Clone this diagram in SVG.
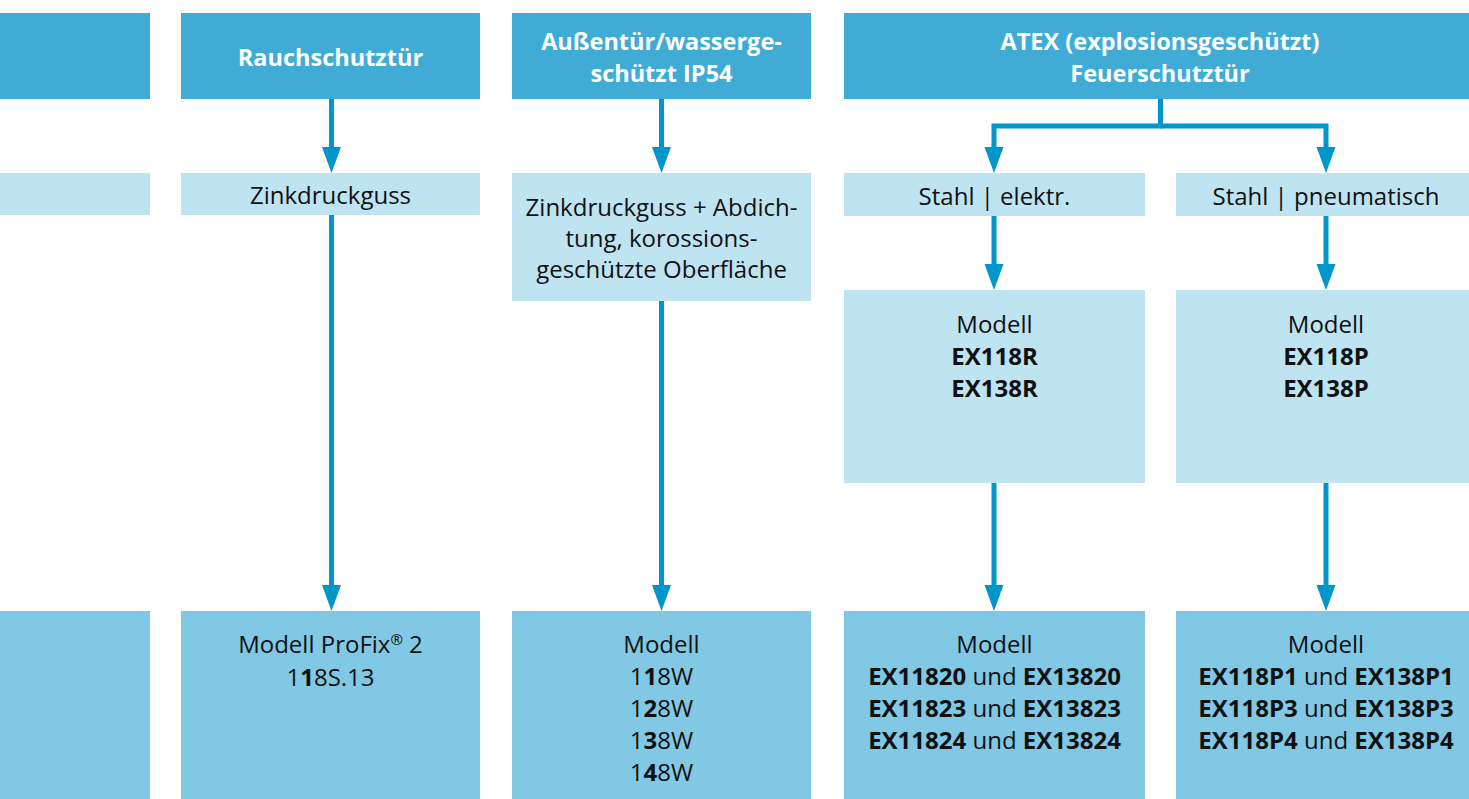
<svg xmlns="http://www.w3.org/2000/svg" width="1469" height="799" viewBox="0 0 1469 799">
<defs>
<style>
.hd{fill:#40acd6}
.lt{fill:#bee3f1}
.bt{fill:#80c8e4}
text{font-family:"Open Sans","Noto Sans","DejaVu Sans",sans-serif;font-size:24px;fill:#111;text-anchor:middle}
.ht{font-weight:bold;fill:#fff;font-size:23.5px}
.b{font-weight:bold}
.con{fill:none;stroke:#0096cc;stroke-width:5;stroke-linejoin:miter}
</style>
<marker id="ah" markerUnits="userSpaceOnUse" markerWidth="28" markerHeight="22" refX="0" refY="10" orient="auto" viewBox="0 0 28 22">
<path d="M0,0.5 L26,10 L0,19.5 z" fill="#0096cc"/>
</marker>
</defs>
<rect width="1469" height="799" fill="#fff"/>

<g id="col1">
<rect class="hd" x="0" y="13" width="150" height="86"/>
<rect class="lt" x="0" y="173" width="150" height="42"/>
<rect class="bt" x="0" y="611" width="150" height="189"/>
</g>

<g id="rauch">
<rect class="hd" x="181" y="13" width="299" height="86"/>
<text class="ht" x="330.5" y="66">Rauchschutztür</text>
</g>
<g id="zink">
<rect class="lt" x="181" y="173" width="299" height="42"/>
<text x="330.5" y="204">Zinkdruckguss</text>
</g>
<g id="profix">
<rect class="bt" x="181" y="611" width="299" height="189"/>
<text x="330.5" y="653">Modell ProFix<tspan font-size="15" dy="-8">®</tspan><tspan dy="8"> 2</tspan></text>
<text x="330.5" y="686">1<tspan class="b">1</tspan>8S.13</text>
</g>

<g id="aussen">
<rect class="hd" x="512" y="13" width="299" height="86"/>
<text class="ht" x="661.5" y="50">Außentür/wasserge-</text>
<text class="ht" x="661.5" y="82">schützt IP54</text>
</g>
<g id="zinkab">
<rect class="lt" x="512" y="173" width="299" height="128"/>
<text x="661.5" y="216">Zinkdruckguss + Abdich-</text>
<text x="661.5" y="247">tung, korossions-</text>
<text x="661.5" y="278">geschützte Oberfläche</text>
</g>
<g id="w">
<rect class="bt" x="512" y="611" width="299" height="189"/>
<text x="661.5" y="653">Modell</text>
<text x="661.5" y="685">1<tspan class="b">1</tspan>8W</text>
<text x="661.5" y="717">1<tspan class="b">2</tspan>8W</text>
<text x="661.5" y="749">1<tspan class="b">3</tspan>8W</text>
<text x="661.5" y="781">1<tspan class="b">4</tspan>8W</text>
</g>

<g id="atex">
<rect class="hd" x="844" y="13" width="632" height="86"/>
<text class="ht" x="1160" y="50">ATEX (explosionsgeschützt)</text>
<text class="ht" x="1160" y="82">Feuerschutztür</text>
</g>
<g id="elektr">
<rect class="lt" x="844" y="173" width="301" height="43"/>
<text x="994.5" y="205">Stahl | elektr.</text>
</g>
<g id="pneu">
<rect class="lt" x="1176" y="173" width="300" height="43"/>
<text x="1326" y="205">Stahl | pneumatisch</text>
</g>
<g id="exr">
<rect class="lt" x="844" y="290" width="301" height="193"/>
<text x="994.5" y="333">Modell</text>
<text class="b" x="994.5" y="365">EX118R</text>
<text class="b" x="994.5" y="397">EX138R</text>
</g>
<g id="exp">
<rect class="lt" x="1176" y="290" width="300" height="193"/>
<text x="1326" y="333">Modell</text>
<text class="b" x="1326" y="365">EX118P</text>
<text class="b" x="1326" y="397">EX138P</text>
</g>
<g id="exr2">
<rect class="bt" x="844" y="611" width="301" height="189"/>
<text x="994.5" y="653">Modell</text>
<text x="994.5" y="685"><tspan class="b">EX11820</tspan> und <tspan class="b">EX13820</tspan></text>
<text x="994.5" y="717"><tspan class="b">EX11823</tspan> und <tspan class="b">EX13823</tspan></text>
<text x="994.5" y="749"><tspan class="b">EX11824</tspan> und <tspan class="b">EX13824</tspan></text>
</g>
<g id="exp2">
<rect class="bt" x="1176" y="611" width="300" height="189"/>
<text x="1326" y="653">Modell</text>
<text x="1326" y="685"><tspan class="b">EX118P1</tspan> und <tspan class="b">EX138P1</tspan></text>
<text x="1326" y="717"><tspan class="b">EX118P3</tspan> und <tspan class="b">EX138P3</tspan></text>
<text x="1326" y="749"><tspan class="b">EX118P4</tspan> und <tspan class="b">EX138P4</tspan></text>
</g>

<g id="connectors">
<path class="con" d="M331.5,99 V147" marker-end="url(#ah)"/>
<path class="con" d="M331.5,215 V585" marker-end="url(#ah)"/>
<path class="con" d="M661.5,99 V147" marker-end="url(#ah)"/>
<path class="con" d="M661.5,301 V585" marker-end="url(#ah)"/>
<path class="con" d="M1160.5,99 V126 H994 V147" marker-end="url(#ah)"/>
<path class="con" d="M1160.5,126 H1326 V147" marker-end="url(#ah)"/>
<path class="con" d="M994,216 V264" marker-end="url(#ah)"/>
<path class="con" d="M1326,216 V264" marker-end="url(#ah)"/>
<path class="con" d="M994,483 V585" marker-end="url(#ah)"/>
<path class="con" d="M1326,483 V585" marker-end="url(#ah)"/>
</g>
</svg>
